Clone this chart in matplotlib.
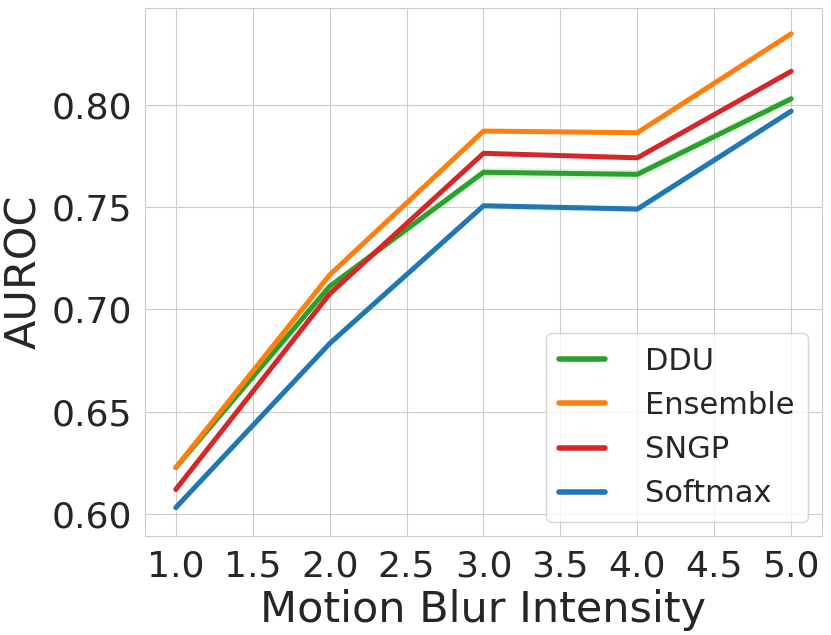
import numpy as np
import matplotlib
matplotlib.use("Agg")
import matplotlib.pyplot as plt
import seaborn as sns

# 数据
intensity = [1.0, 2.0, 3.0, 4.0, 5.0]
methods = ["DDU", "Ensemble", "SNGP", "Softmax"]
colors = ["#2ca02c", "#ff7f0e", "#d62728", "#1f77b4"]
ddu = [0.6225, 0.7113, 0.7672, 0.7662, 0.8032]
ensemble = [0.6225, 0.7169, 0.7874, 0.7866, 0.8351]
sngp = [0.6118, 0.7076, 0.7765, 0.7743, 0.8167]
softmax = [0.6029, 0.6833, 0.7508, 0.7492, 0.7972]
ddu_std = [0.0015, 0.0020, 0.0025, 0.0025, 0.0025]
ensemble_std = [0.0005, 0.0005, 0.0008, 0.0008, 0.0008]
sngp_std = [0.0005, 0.0005, 0.0008, 0.0008, 0.0008]
softmax_std = [0.0008, 0.0010, 0.0015, 0.0015, 0.0015]

means = [ddu, ensemble, sngp, softmax]
stds = [ddu_std, ensemble_std, sngp_std, softmax_std]

sns.set_style("whitegrid")
plt.rcParams['font.family'] = ['DejaVu Sans']

fig = plt.figure(figsize=(8.31, 6.35), dpi=100)
ax = fig.add_axes([145 / 831, 1 - 536 / 635, (822 - 145) / 831, (536 - 8) / 635])

x = np.array(intensity)
for name, m, s, c in zip(methods, means, stds, colors):
    m = np.array(m)
    s = np.array(s)
    ax.plot(x, m, color=c, lw=3.6, label=name, solid_capstyle='round')
    ax.fill_between(x, m - s, m + s, color=c, alpha=0.12, lw=0)

ax.set_xlim(0.8, 5.2)
ax.set_ylim(0.589, 0.8477)
ax.set_xticks(np.arange(1.0, 5.01, 0.5))
ax.set_xticklabels([f"{v:.1f}" for v in np.arange(1.0, 5.01, 0.5)])
ax.set_yticks([0.60, 0.65, 0.70, 0.75, 0.80])
ax.set_yticklabels(["0.60", "0.65", "0.70", "0.75", "0.80"])
ax.tick_params(labelsize=26, colors="#262626", pad=6)
ax.set_xlabel("Motion Blur Intensity", fontsize=31, color="#262626", labelpad=4)
ax.set_ylabel("AUROC", fontsize=31, color="#262626", labelpad=4)

for sp in ax.spines.values():
    sp.set_color("#cccccc")

leg = ax.legend(loc="lower right", fontsize=22, handlelength=1.5,
                borderpad=0.45, labelspacing=0.5, handletextpad=1.3,
                borderaxespad=0.45)
for line in leg.get_lines():
    line.set_linewidth(4)

fig.savefig("out.png", dpi=100)
